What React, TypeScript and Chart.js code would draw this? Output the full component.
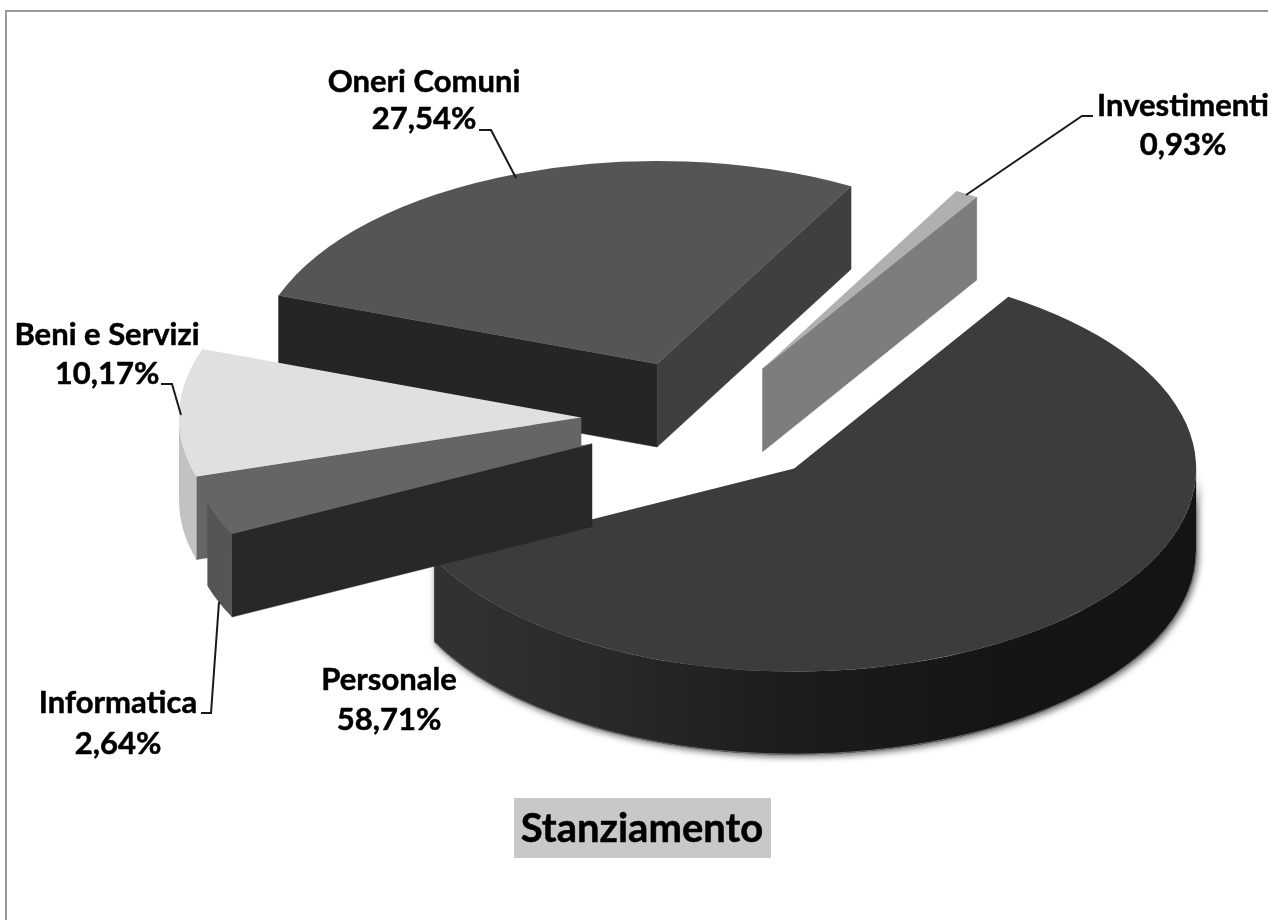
import React, { useEffect, useRef } from "react";
import { Chart, registerables } from "chart.js";

Chart.register(...registerables);

const categories = ["Personale", "Informatica", "Beni e Servizi", "Oneri Comuni", "Investimenti"];
const values = [58.71, 2.64, 10.17, 27.54, 0.93];

const topColors = ["#3c3c3c", "#656565", "#e0e0e0", "#555555", "#b0b0b0"];
const rimColors = [["#343434", "#2a2a2a", "#1c1c1c", "#151515", "#141414"], ["#555555"], ["#c2c2c2"], ["#555555"], ["#808080"]];
const startWallColors = ["#222222", "#282828", "#656565", "#252525", "#7d7d7d"];
const endWallColors = ["#222222", "#555555", "#656565", "#3f3f3f", "#7d7d7d"];
const paintOrder = [3, 4, 0, 2, 1];

const ROTATION = 32.2;
const RADIUS = 402;
const EXPLODE = 127;
const TILT = 0.505;
const DEPTH = 83;
const nudgeX = [3, 4, 2, -4, -8];
const nudgeY = [0, -1, -2, 3, 3];

const labelCentres = [
  { x: 389, y: 680, dy: 40 },
  { x: 118, y: 703, dy: 41 },
  { x: 107, y: 335, dy: 39 },
  { x: 424, y: 82, dy: 37 },
  { x: 1183, y: 106, dy: 39 },
];
const leaders = [
  null,
  [[201, 713], [211, 713], [219, 602]],
  [[161, 384], [172, 384], [181, 415]],
  [[479, 130], [491, 130], [516, 178]],
  [[1093, 116], [1082, 116], [966, 195]],
];
const titleText = "Stanziamento";
const FONT = "Lato, Carlito, Calibri, sans-serif";

const pct = (v: number) => v.toFixed(2).replace(".", ",") + "%";

const pie3d = {
  id: "pie3d",
  beforeDraw(chart: any) {
    const ctx = chart.ctx;
    ctx.save();
    ctx.fillStyle = "#ffffff";
    ctx.fillRect(0, 0, chart.width, chart.height);
    ctx.strokeStyle = "#999999";
    ctx.lineWidth = 2;
    ctx.beginPath();
    ctx.moveTo(6, chart.height);
    ctx.lineTo(6, 11);
    ctx.lineTo(chart.width, 11);
    ctx.stroke();
    ctx.restore();
  },
  beforeDatasetsDraw(chart: any) {
    const ctx = chart.ctx;
    const arcs = chart.getDatasetMeta(0).data;
    paintOrder.forEach((i) => {
      const arc = arcs[i];
      const { x, y, startAngle: a, endAngle: b, outerRadius: r } = arc.getProps(
        ["x", "y", "startAngle", "endAngle", "outerRadius"],
        true
      );
      const mid = (a + b) / 2;
      const cx = x + Math.cos(mid) * EXPLODE + nudgeX[i];
      const cy = y + Math.sin(mid) * EXPLODE * TILT + nudgeY[i];
      const rim = (t: number) => [cx + r * Math.cos(t), cy + r * TILT * Math.sin(t)];
      const wall = (t: number, color: string) => {
        const [px, py] = rim(t);
        ctx.fillStyle = color;
        ctx.strokeStyle = color;
        ctx.lineWidth = 0.5;
        ctx.beginPath();
        ctx.moveTo(cx, cy);
        ctx.lineTo(px, py);
        ctx.lineTo(px, py + DEPTH);
        ctx.lineTo(cx, cy + DEPTH);
        ctx.closePath();
        ctx.fill();
        ctx.stroke();
      };

      ctx.save();
      if (Math.cos(a) < 0) wall(a, startWallColors[i]);
      if (Math.cos(b) > 0) wall(b, endWallColors[i]);

      for (const shift of [-2 * Math.PI, 0, 2 * Math.PI]) {
        const s = Math.max(a + shift, 0);
        const e = Math.min(b + shift, Math.PI);
        if (s >= e) continue;
        const stops = rimColors[i];
        let fill: any = stops[0];
        if (stops.length > 1) {
          fill = ctx.createLinearGradient(cx - r, 0, cx + r, 0);
          stops.forEach((c, k) => fill.addColorStop(k / (stops.length - 1), c));
        }
        ctx.save();
        if (stops.length > 1) {
          ctx.shadowColor = "rgba(0,0,0,0.65)";
          ctx.shadowBlur = 7;
          ctx.shadowOffsetX = 2;
          ctx.shadowOffsetY = 2;
        }
        ctx.fillStyle = fill;
        ctx.beginPath();
        ctx.ellipse(cx, cy, r, r * TILT, 0, s, e);
        ctx.ellipse(cx, cy + DEPTH, r, r * TILT, 0, e, s, true);
        ctx.closePath();
        ctx.fill();
        ctx.restore();
        if (stops.length > 1) {
          ctx.strokeStyle = "#6e6e6e";
          ctx.lineWidth = 1;
          ctx.beginPath();
          ctx.ellipse(cx, cy + DEPTH - 0.5, r, r * TILT, 0, s, e);
          ctx.stroke();
        }
      }

      // the top face is the library's own arc element, tilted and moved out
      ctx.translate(cx - x, cy);
      ctx.scale(1, TILT);
      ctx.translate(0, -y);
      arc.draw(ctx);
      ctx.restore();
    });
    return false;
  },
  afterDraw(chart: any) {
    const ctx = chart.ctx;
    ctx.save();
    ctx.strokeStyle = "#1a1a1a";
    ctx.lineWidth = 2;
    leaders.forEach((pts) => {
      if (!pts) return;
      ctx.beginPath();
      pts.forEach(([px, py], k) => (k ? ctx.lineTo(px, py) : ctx.moveTo(px, py)));
      ctx.stroke();
    });
    ctx.fillStyle = "#000000";
    ctx.strokeStyle = "#000000";
    ctx.lineWidth = 0.5;
    ctx.lineJoin = "round";
    ctx.textAlign = "center";
    ctx.textBaseline = "middle";
    ctx.font = `bold 31px ${FONT}`;
    categories.forEach((c, i) => {
      const l = labelCentres[i];
      ctx.fillText(c, l.x, l.y);
      ctx.strokeText(c, l.x, l.y);
      ctx.fillText(pct(values[i]), l.x, l.y + l.dy);
      ctx.strokeText(pct(values[i]), l.x, l.y + l.dy);
    });
    ctx.fillStyle = "#c8c8c8";
    ctx.fillRect(514, 798, 257, 60);
    ctx.fillStyle = "#000000";
    ctx.font = `bold 40px ${FONT}`;
    ctx.fillText(titleText, 642, 829);
    ctx.strokeText(titleText, 642, 829);
    ctx.restore();
  },
};

export default function App() {
  const ref = useRef<HTMLCanvasElement>(null);
  useEffect(() => {
    document.body.style.margin = "0";
    const chart = new Chart(ref.current as HTMLCanvasElement, {
      type: "pie",
      data: {
        labels: categories,
        datasets: [{ data: values, backgroundColor: topColors, borderWidth: 0 }],
      },
      options: {
        responsive: false,
        animation: false,
        rotation: ROTATION,
        radius: RADIUS,
        layout: { padding: { left: 144, right: 0, top: 0, bottom: 78 } },
        plugins: { legend: { display: false }, tooltip: { enabled: false }, title: { display: false } },
      } as any,
      plugins: [pie3d],
    });
    return () => chart.destroy();
  }, []);
  return <canvas ref={ref} width={1268} height={920} style={{ display: "block" }} />;
}
